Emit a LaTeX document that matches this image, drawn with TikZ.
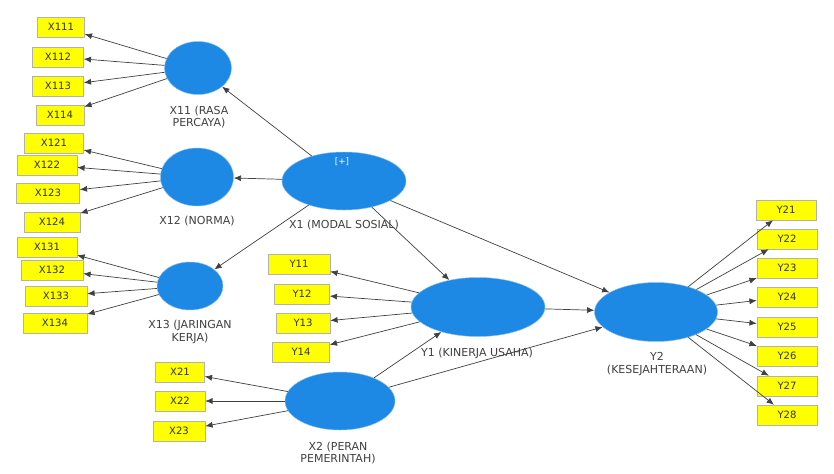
\documentclass[tikz,border=0pt]{standalone}
\usepackage{fontspec}
\setmainfont{DejaVu Sans}
\usetikzlibrary{arrows.meta,positioning,shapes.geometric}

\definecolor{latentblue}{RGB}{30,136,229}
\definecolor{itemyellow}{RGB}{255,255,0}

\begin{document}
\begin{tikzpicture}[x=0.03cm, y=-0.03cm,
  latent/.style={ellipse, fill=latentblue, draw=latentblue!55, inner sep=0pt},
  item/.style={draw=black!30, fill=itemyellow, minimum width=1.8cm, minimum height=0.6cm, inner sep=1pt, font=\fontsize{8.6}{9.5}\selectfont, text=black!80},
  lbl/.style={align=center, font=\fontsize{9.4}{10.8}\selectfont, text=black!75},
  arr/.style={-{Latex[length=2.2mm, width=1.8mm]}, draw=black!75, line width=0.6pt}
]
\useasboundingbox (0,0) rectangle (834,474);

% latent variables
\node[latent, minimum width=2.01cm, minimum height=1.59cm] (x11) at (198,68) {};
\node[latent, minimum width=2.19cm, minimum height=1.74cm] (x12) at (197,177) {};
\node[latent, minimum width=1.98cm, minimum height=1.44cm] (x13) at (190,286) {};
\node[latent, minimum width=3.72cm, minimum height=1.74cm] (x1) at (344,181) {};
\node[latent, minimum width=4.02cm, minimum height=1.77cm] (y1) at (478,307) {};
\node[latent, minimum width=3.30cm, minimum height=1.74cm] (x2) at (340,401) {};
\node[latent, minimum width=3.69cm, minimum height=1.77cm] (y2) at (656,312) {};
\node[font=\fontsize{7.5}{8}\selectfont, text=white] (plus) at (342,162) {[+]};

% labels
\node[lbl] (x11lbl) at (199,117) {X11 (RASA\\PERCAYA)};
\node[lbl] (x12lbl) at (197,221) {X12 (NORMA)};
\node[lbl] (x13lbl) at (190,332) {X13 (JARINGAN\\KERJA)};
\node[lbl] (x1lbl) at (344,225) {X1 (MODAL SOSIAL)};
\node[lbl] (y1lbl) at (477,353) {Y1 (KINERJA USAHA)};
\node[lbl] (x2lbl) at (338,453) {X2 (PERAN\\PEMERINTAH)};
\node[lbl] (y2lbl) at (657,364) {Y2\\(KESEJAHTERAAN)};

% indicators of X11
\node[item, minimum width=1.41cm] (x111) at (61,27) {X111};
\node[item, minimum width=1.53cm] (x112) at (58,57) {X112};
\node[item, minimum width=1.53cm] (x113) at (58,86) {X113};
\node[item, minimum width=1.44cm] (x114) at (60,115) {X114};
% indicators of X12
\node[item, minimum width=1.77cm] (x121) at (54,143) {X121};
\node[item] (x122) at (47,165) {X122};
\node[item, minimum width=1.89cm] (x123) at (48,193) {X123};
\node[item, minimum width=1.68cm] (x124) at (52,222) {X124};
% indicators of X13
\node[item] (x131) at (47,247) {X131};
\node[item, minimum width=1.86cm] (x132) at (52,270) {X132};
\node[item, minimum width=1.86cm] (x133) at (56,296) {X133};
\node[item, minimum width=1.92cm] (x134) at (55,323) {X134};
% indicators of Y1
\node[item, minimum width=1.86cm] (y11) at (299,264) {Y11};
\node[item, minimum width=1.65cm] (y12) at (302,294) {Y12};
\node[item, minimum width=1.62cm] (y13) at (303,323) {Y13};
\node[item, minimum width=1.71cm] (y14) at (301,352) {Y14};
% indicators of X2
\node[item, minimum width=1.47cm] (x21) at (180,372) {X21};
\node[item, minimum width=1.5cm] (x22) at (180,401) {X22};
\node[item, minimum width=1.56cm] (x23) at (179,431) {X23};
% indicators of Y2
\node[item] (y21) at (786,210) {Y21};
\node[item] (y22) at (787,239) {Y22};
\node[item] (y23) at (787,268) {Y23};
\node[item] (y24) at (787,297) {Y24};
\node[item] (y25) at (787,327) {Y25};
\node[item] (y26) at (787,356) {Y26};
\node[item] (y27) at (787,386) {Y27};
\node[item] (y28) at (787,415) {Y28};

% structural paths
\draw[arr] (x1) -- (x11);
\draw[arr] (x1) -- (x12);
\draw[arr] (x1) -- (x13);
\draw[arr] (x1) -- (y1);
\draw[arr] (x1) -- (y2);
\draw[arr] (y1) -- (y2);
\draw[arr] (x2) -- (y1);
\draw[arr] (x2) -- (y2);

% measurement paths
\draw[arr] (x11) -- (x111);
\draw[arr] (x11) -- (x112);
\draw[arr] (x11) -- (x113);
\draw[arr] (x11) -- (x114);
\draw[arr] (x12) -- (x121);
\draw[arr] (x12) -- (x122);
\draw[arr] (x12) -- (x123);
\draw[arr] (x12) -- (x124);
\draw[arr] (x13) -- (x131);
\draw[arr] (x13) -- (x132);
\draw[arr] (x13) -- (x133);
\draw[arr] (x13) -- (x134);
\draw[arr] (y1) -- (y11);
\draw[arr] (y1) -- (y12);
\draw[arr] (y1) -- (y13);
\draw[arr] (y1) -- (y14);
\draw[arr] (x2) -- (x21);
\draw[arr] (x2) -- (x22);
\draw[arr] (x2) -- (x23);
\draw[arr] (y2) -- (y21);
\draw[arr] (y2) -- (y22);
\draw[arr] (y2) -- (y23);
\draw[arr] (y2) -- (y24);
\draw[arr] (y2) -- (y25);
\draw[arr] (y2) -- (y26);
\draw[arr] (y2) -- (y27);
\draw[arr] (y2) -- (y28);
\end{tikzpicture}
\end{document}
